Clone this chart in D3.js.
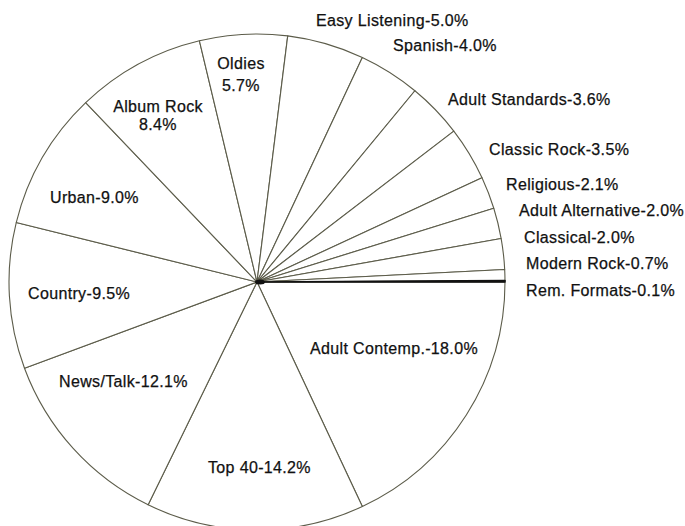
<!DOCTYPE html>
<html>
<head>
<meta charset="utf-8">
<script src="https://cdn.jsdelivr.net/npm/d3@7"></script>
<style>
  html, body { margin: 0; padding: 0; background: #fff; }
  svg { display: block; }
  text { font-family: "Liberation Sans", Arial, Helvetica, sans-serif; font-size: 16px; letter-spacing: 0.35px; fill: #111; stroke: #111; stroke-width: 0.25px; }
</style>
</head>
<body>
<svg id="chart" width="685" height="526"></svg>
<script>
// Radio format share, listed clockwise from 3 o'clock
const categories = [
  "Adult Contemp.", "Top 40", "News/Talk", "Country", "Urban", "Album Rock",
  "Oldies", "Easy Listening", "Spanish", "Adult Standards", "Classic Rock",
  "Religious", "Adult Alternative", "Classical", "Modern Rock", "Rem. Formats"
];
const shares = [18.0, 14.2, 12.1, 9.5, 9.0, 8.4, 5.7, 5.0, 4.0, 3.6, 3.5, 2.1, 2.0, 2.0, 0.7, 0.1];

// Label placement (offset of the first text line's centre from the pie centre)
const labelLayout = {
  "Adult Contemp.":    { dx: 53,   dy: 66,  anchor: "start" },
  "Top 40":            { dx: -49,  dy: 185, anchor: "start" },
  "News/Talk":         { dx: -198, dy: 99,  anchor: "start" },
  "Country":           { dx: -229, dy: 11,  anchor: "start" },
  "Urban":             { dx: -207, dy: -85, anchor: "start" },
  "Album Rock":        { dx: -99,  dy: -176, anchor: "middle", gap: 18 },
  "Oldies":            { dx: -16,  dy: -219, anchor: "middle", gap: 22 },
  "Easy Listening":    { dx: 59,   dy: -262, anchor: "start" },
  "Spanish":           { dx: 136,  dy: -237, anchor: "start" },
  "Adult Standards":   { dx: 191,  dy: -183, anchor: "start" },
  "Classic Rock":      { dx: 232,  dy: -133, anchor: "start" },
  "Religious":         { dx: 249,  dy: -98,  anchor: "start" },
  "Adult Alternative": { dx: 262,  dy: -72,  anchor: "start" },
  "Classical":         { dx: 267,  dy: -45,  anchor: "start" },
  "Modern Rock":       { dx: 269,  dy: -19,  anchor: "start" },
  "Rem. Formats":      { dx: 269,  dy: 8,    anchor: "start" }
};

const cx = 257, cy = 282, radius = 248;

const data = categories.map((name, i) => ({ name, value: shares[i] }));

const pie = d3.pie()
  .value(d => d.value)
  .sort(null)
  .startAngle(Math.PI / 2)
  .endAngle(Math.PI / 2 + 2 * Math.PI);

const arc = d3.arc().innerRadius(0).outerRadius(radius);

const svg = d3.select("#chart");
const g = svg.append("g").attr("transform", `translate(${cx},${cy})`);

g.selectAll("path.slice")
  .data(pie(data))
  .join("path")
  .attr("class", "slice")
  .attr("d", arc)
  .attr("fill", d => d.data.name === "Rem. Formats" ? "#111" : "#fff")
  .attr("stroke", d => d.data.name === "Rem. Formats" ? "#111" : "#5c5c4a")
  .attr("stroke-width", d => d.data.name === "Rem. Formats" ? 1.6 : 1.1)
  .attr("stroke-linejoin", "round");

// Ink where the spokes meet at the hub
g.append("ellipse")
  .attr("cx", 3).attr("cy", 0)
  .attr("rx", 5).attr("ry", 2.5)
  .attr("fill", "#111");

// Labels
const fmt = v => v.toFixed(1) + "%";
const labels = g.selectAll("g.label")
  .data(data)
  .join("g")
  .attr("class", "label")
  .attr("transform", d => `translate(${labelLayout[d.name].dx},${labelLayout[d.name].dy})`);

labels.each(function(d) {
  const L = labelLayout[d.name];
  const sel = d3.select(this);
  if (L.gap) {
    sel.append("text").attr("text-anchor", L.anchor).attr("y", 6).text(d.name);
    sel.append("text").attr("text-anchor", L.anchor).attr("y", 6 + L.gap).text(fmt(d.value));
  } else {
    sel.append("text").attr("text-anchor", L.anchor).attr("y", 6).text(`${d.name}-${fmt(d.value)}`);
  }
});
</script>
</body>
</html>
